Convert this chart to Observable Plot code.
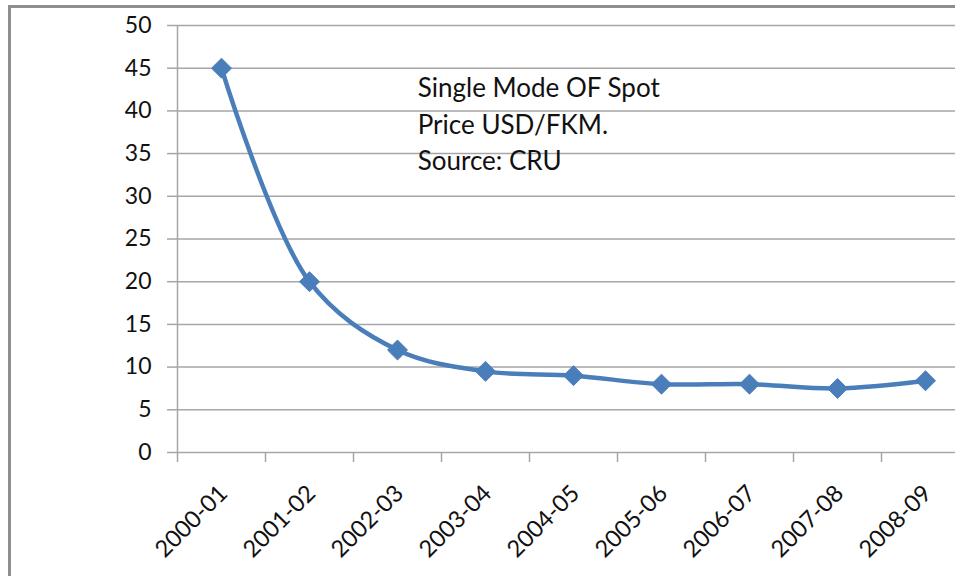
<!DOCTYPE html>
<html><head><meta charset="utf-8">
<script src="https://cdn.jsdelivr.net/npm/d3@7"></script>
<script src="https://cdn.jsdelivr.net/npm/@observablehq/plot@0.6"></script>
<style>
html,body{margin:0;padding:0;background:#fff;overflow:hidden;width:955px;height:576px}
#frame{position:absolute;left:8px;top:5px;width:944px;height:568px;border-left:3px solid #8e8e8e;border-top:3px solid #8e8e8e;}
#chart{position:absolute;left:0;top:0;width:955px;height:576px;overflow:hidden}
#chart svg{overflow:hidden}
</style></head><body>
<div id="frame"></div>
<div id="chart"></div>
<script>
const periods = ["2000-01","2001-02","2002-03","2003-04","2004-05","2005-06","2006-07","2007-08","2008-09"];
const prices = [45, 20, 12, 9.5, 9, 8, 8, 7.5, 8.4];
const yTicks = d3.range(0, 51, 5);
const annotation = ["Single Mode OF Spot", "Price USD/FKM.", "Source: CRU"];
const annotationPos = {idx: 2.73, price: 44.6};

const data = periods.map((p, i) => ({period: p, idx: i + 0.5, price: prices[i]}));
const boundaries = d3.range(0, periods.length + 1);

const chart = Plot.plot({
  width: 955, height: 576,
  marginLeft: 177, marginRight: -14, marginTop: 25, marginBottom: 124,
  x: {type: "linear", domain: [0, periods.length]},
  y: {domain: [0, 50]},
  style: {fontFamily: "Lato", background: "transparent", color: "#111"},
  marks: [
    Plot.gridY(yTicks, {stroke: "#a6a6a6", strokeOpacity: 1, strokeWidth: 1.5}),
    Plot.axisY(yTicks, {tickSize: 10, tickPadding: 16, stroke: "#a6a6a6", strokeWidth: 1.5, fontSize: 23, fill: "#111", label: null}),
    Plot.ruleX([0], {stroke: "#a6a6a6", strokeWidth: 1.5}),
    Plot.axisX(boundaries, {tickSize: 10, tickFormat: () => "", stroke: "#a6a6a6", strokeWidth: 1.5, label: null}),
    Plot.text(data, {x: "idx", y: () => 0, text: "period", rotate: -45, textAnchor: "end", lineAnchor: "middle", dy: 37, dx: 2, fontSize: 23.5, fill: "#111"}),
    Plot.text([annotation.join("\n")], {x: () => annotationPos.idx, y: () => annotationPos.price, textAnchor: "start", lineAnchor: "top", lineHeight: 1.4, fontSize: 26, fill: "#111"}),
    Plot.line(data, {x: "idx", y: "price", curve: "catmull-rom", stroke: "#4a7ebb", strokeWidth: 4.5}),
    Plot.dot(data, {x: "idx", y: "price", symbol: "diamond2", fill: "#4a7ebb", stroke: "#4a7ebb", strokeWidth: 1, r: 9})
  ]
});
document.getElementById("chart").appendChild(chart);
</script>
</body></html>
